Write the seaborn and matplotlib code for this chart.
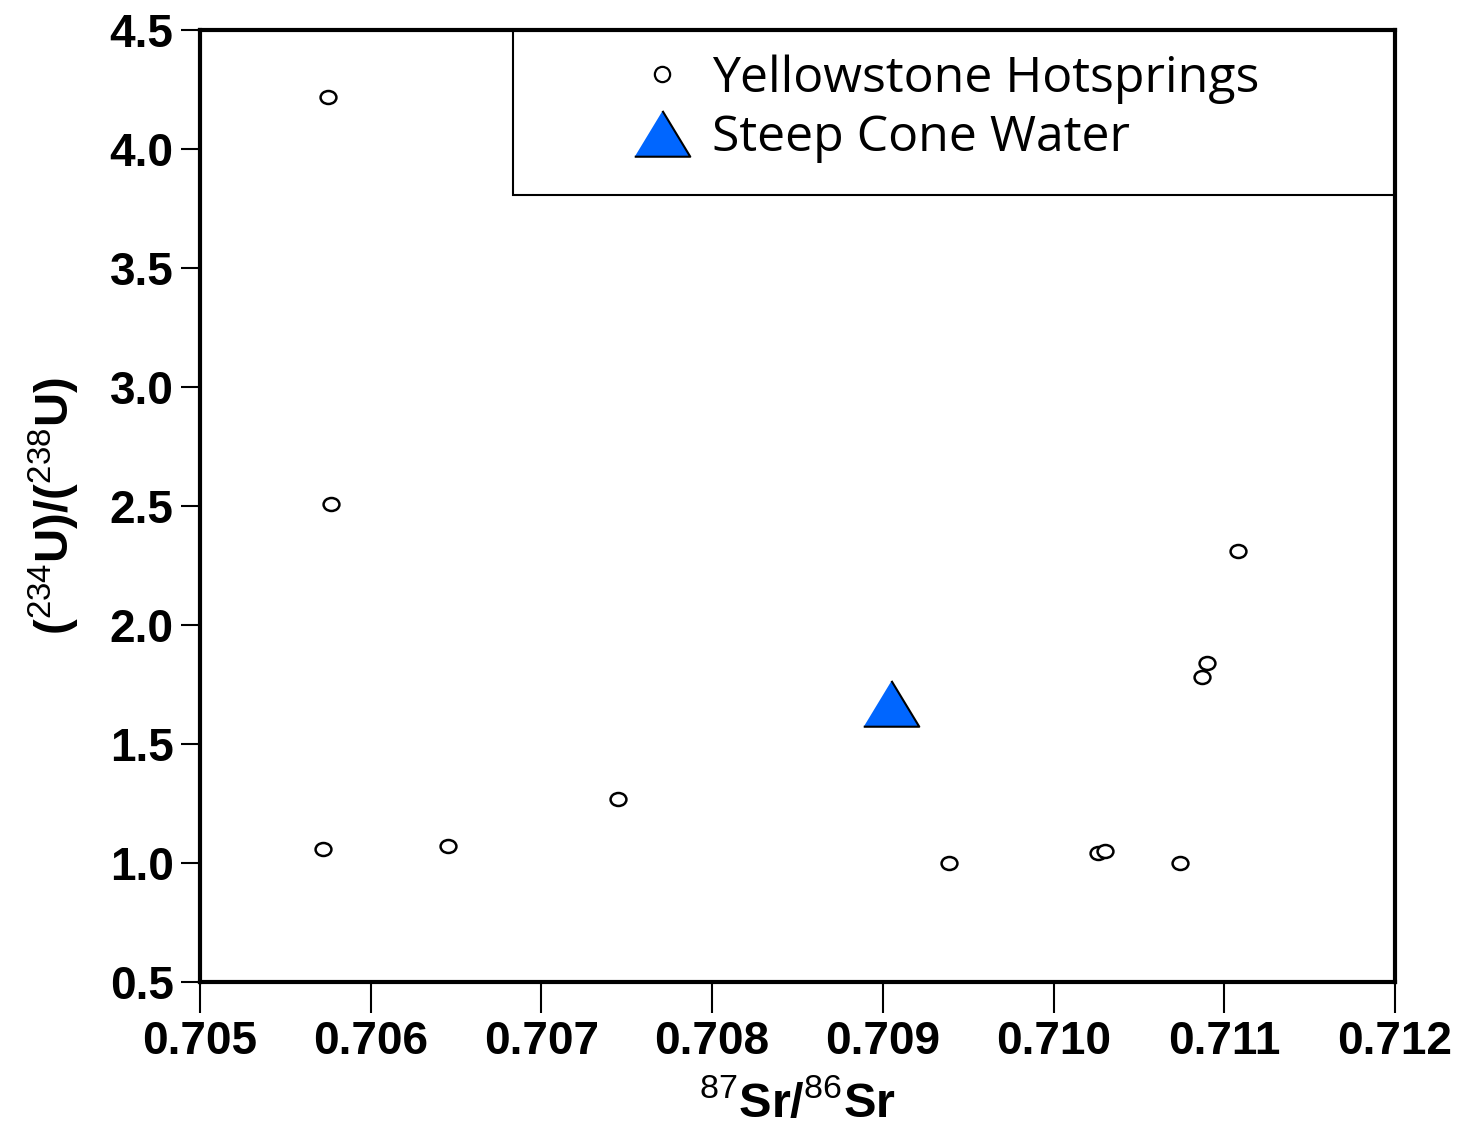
import numpy as np
import pandas as pd
import seaborn as sns
import matplotlib.pyplot as plt
from matplotlib.markers import MarkerStyle
from matplotlib.transforms import Affine2D
from matplotlib.patches import Rectangle
from matplotlib.lines import Line2D

# data
hot_sr = [0.70575, 0.70577, 0.70572, 0.70645, 0.70745, 0.70939,
          0.71026, 0.71030, 0.71074, 0.71087, 0.71090, 0.71108]
hot_u = [4.22, 2.51, 1.06, 1.07, 1.27, 1.00,
         1.04, 1.05, 1.00, 1.78, 1.84, 2.31]
cone_sr = [0.70905]
cone_u = [1.67]

hot = pd.DataFrame({"sr": hot_sr, "u": hot_u})
cone = pd.DataFrame({"sr": cone_sr, "u": cone_u})

sns.set_style("ticks")
plt.rcParams["font.family"] = ["Liberation Sans", "DejaVu Sans"]
plt.rcParams["mathtext.fontset"] = "custom"
plt.rcParams["mathtext.rm"] = "Liberation Sans"
plt.rcParams["mathtext.bf"] = "Liberation Sans:bold"
plt.rcParams["mathtext.it"] = "Liberation Sans:italic"
plt.rcParams["text.color"] = "black"
plt.rcParams["axes.labelcolor"] = "black"
plt.rcParams["xtick.color"] = "black"
plt.rcParams["ytick.color"] = "black"

fig = plt.figure(figsize=(14.73, 11.31), dpi=100)
ax = fig.add_axes([200 / 1473, 149 / 1131, 1195 / 1473, 952 / 1131])

oval = MarkerStyle("o", transform=Affine2D().scale(1, 0.82))
tri = [(-1, -0.8), (1, -0.8), (0, 0.85)]

sns.scatterplot(data=hot, x="sr", y="u", ax=ax, marker=oval, s=130,
                facecolor="white", edgecolor="black", linewidth=1.8, zorder=3)
sns.scatterplot(data=cone, x="sr", y="u", ax=ax, marker=tri, s=1600,
                color="#0066ff", edgecolor="black", linewidth=1.5, zorder=4)

xt = np.arange(0.705, 0.7121, 0.001)
yt = np.arange(0.5, 4.51, 0.5)
ax.set_xlim(0.705, 0.712)
ax.set_ylim(0.5, 4.5)
ax.set_xticks(xt)
ax.set_yticks(yt)
ax.set_xticklabels([f"{v:.3f}" for v in xt])
ax.set_yticklabels([f"{v:.1f}" for v in yt])

for s in ax.spines.values():
    s.set_linewidth(3)
    s.set_color("black")
ax.tick_params(axis="x", length=22, width=1.5, pad=5, labelsize=33)
ax.tick_params(axis="y", length=14, width=1.5, pad=5, labelsize=33)
for lab in ax.get_xticklabels() + ax.get_yticklabels():
    lab.set_fontweight("bold")

ax.set_xlabel(r"$^{87}\mathbf{Sr/}^{86}\mathbf{Sr}$", fontsize=35, labelpad=12)
ax.set_ylabel(r"$\mathbf{(}^{234}\mathbf{U)/(}^{238}\mathbf{U)}$", fontsize=34, labelpad=20)

# legend box
ax.add_patch(Rectangle((313 / 1195, 787 / 952), 882 / 1195, 165 / 952,
                       transform=ax.transAxes, fill=False, edgecolor="black",
                       linewidth=1.5, zorder=5))
handles = [
    Line2D([], [], linestyle="none", marker="o", markersize=11,
           markerfacecolor="white", markeredgecolor="black", markeredgewidth=1.6),
    Line2D([], [], linestyle="none", marker=tri, markersize=40,
           markerfacecolor="#0066ff", markeredgecolor="black", markeredgewidth=1.5),
]
ax.legend(handles, ["Yellowstone Hotsprings", "Steep Cone Water"],
          loc="upper left", bbox_to_anchor=(0.3552, 0.9744), frameon=False,
          borderpad=0, borderaxespad=0, handlelength=1.5, handletextpad=0.25,
          labelspacing=0.2, prop={"family": "Open Sans", "size": 36})

fig.savefig("out.png", dpi=100)
